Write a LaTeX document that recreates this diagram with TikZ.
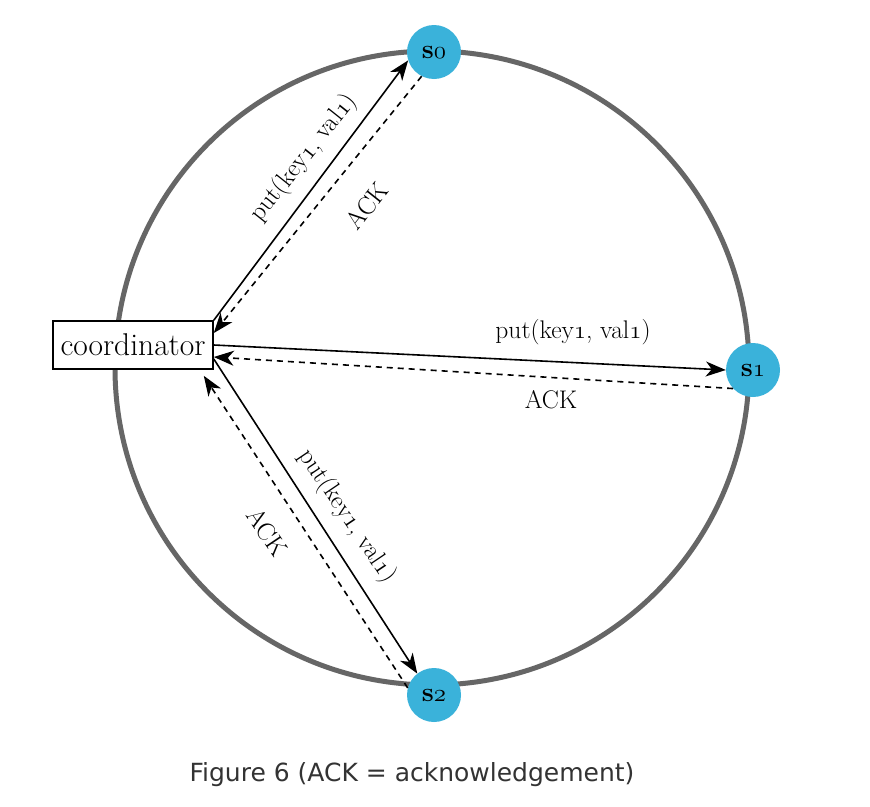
\documentclass[tikz,border=0pt]{standalone}
\usepackage{fontspec}
\newfontfamily\capfont{DejaVu Sans}
\usetikzlibrary{arrows.meta}
\definecolor{nodeblue}{RGB}{58,178,218}
\definecolor{ringgrey}{RGB}{102,102,102}
\definecolor{capgrey}{RGB}{51,51,51}
\newcommand{\osn}[1]{{\usefont{OML}{lmm}{m}{it}#1}}
\newcommand{\osnb}[1]{{\usefont{OML}{lmm}{b}{it}#1}}
\tikzset{
  ring/.style={draw=ringgrey, line width=5pt},
  srv/.style={circle, fill=nodeblue, minimum size=54pt, inner sep=0pt,
    font=\fontsize{27}{30}\selectfont\bfseries},
  coordbox/.style={draw, line width=1.6pt, fill=white, minimum width=160pt,
    minimum height=48pt, inner sep=0pt, font=\fontsize{31.5}{34}\selectfont},
  putarrow/.style={line width=1.6pt, -{Stealth[length=20pt,width=15pt,inset=6pt]}},
  ackarrow/.style={line width=1.6pt, dash pattern=on 6pt off 5pt,
    -{Stealth[length=20pt,width=15pt,inset=6pt]}},
  lbl/.style={inner sep=0pt, font=\fontsize{25.5}{28}\selectfont},
  caption/.style={inner sep=0pt, text=capgrey, font=\capfont\fontsize{25}{30}\selectfont}
}
\begin{document}
\begin{tikzpicture}[x=1pt,y=-1pt]
\useasboundingbox (0,0) rectangle (870,806);
\fill[white] (0,0) rectangle (870,806);
\draw[ring] (432,368) circle[radius=317pt];
\node[srv] (s0) at (434,52) {s\osnb{0}};
\node[srv] (s1) at (753,370) {s\osnb{1}};
\node[srv] (s2) at (434,695) {s\osnb{2}};
\node[coordbox] (co) at (133,345) {coordinator};
% s0
\draw[putarrow] (co.north east) -- (s0.198);
\draw[ackarrow] (s0.243) -- ([yshift=12pt]co.east);
% s1
\draw[putarrow] (co.east) -- (s1.west);
\draw[ackarrow] (s1.223) -- ([yshift=-12pt]co.east);
% s2
\draw[putarrow] ([yshift=-14pt]co.east) -- (s2.128);
\draw[ackarrow] (s2.165) -- ([xshift=-10pt,yshift=-6pt]co.south east);
% labels
\node[lbl, rotate=51.5] (l0p) at (304,158) {put(key\osn{1}, val\osn{1})};
\node[lbl, rotate=51.5] (l0a) at (367,206) {ACK};
\node[lbl] (l1p) at (573,332) {put(key\osn{1}, val\osn{1})};
\node[lbl] (l1a) at (551,400) {ACK};
\node[lbl, rotate=-56] (l2p) at (347,516) {put(key\osn{1}, val\osn{1})};
\node[lbl, rotate=-56] (l2a) at (267,532) {ACK};
\node[caption] (cap) at (412,775) {Figure 6 (ACK = acknowledgement)};
\end{tikzpicture}
\end{document}
